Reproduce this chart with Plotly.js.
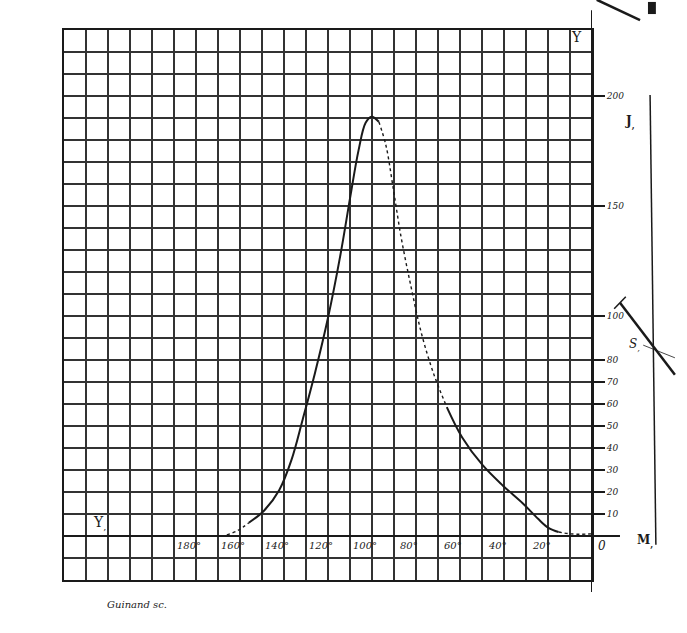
<!DOCTYPE html>
<html>
<head>
<meta charset="utf-8">
<script src="https://cdn.plot.ly/plotly-3.0.1.min.js"></script>
<style>html,body{margin:0;padding:0;background:#fff;}#chart{width:687px;height:633px;}</style>
</head>
<body>
<div id="chart"></div>
<script>
// ---- data ----
const leftDotX  = [166, 161, 156];
const leftDotY  = [0.5, 2.5, 6];
const riseX     = [156, 149.1, 142.2, 136.6, 131.5, 126, 120, 114.5, 109.8, 106.1, 102.9, 100.2, 96.9];
const riseY     = [6, 11.5, 20.8, 34.6, 53, 73.8, 99.2, 127, 154.6, 175.4, 187.8, 190.6, 188.3];
const fallDotX  = [96.9, 93.7, 90.5, 86.8, 82.2, 77.5, 72, 66];
const fallDotY  = [188.3, 177.7, 159, 136, 113, 92, 73.8, 58.6];
const fallX     = [66, 59, 49.8, 40.6, 31.4, 24.5, 19.8, 15.2];
const fallY     = [58.6, 44.8, 32.3, 23, 14.8, 7.8, 3.7, 1.8];
const tailDotX  = [15.2, 10, 5, 0];
const tailDotY  = [1.8, 1, 0.8, 1];

const xTickVals = [180, 160, 140, 120, 100, 80, 60, 40, 20];
const xTickText = ['180°', '160°', '140°', '120°', '100°', '80°', '60°', '40°', '20°'];
const yTickVals = [10, 20, 30, 40, 50, 60, 70, 80, 100, 150, 200];
const yTickText = ['10', '20', '30', '40', '50', '60', '70', '80', '100', '150', '200'];

const serif = 'DejaVu Serif, Liberation Serif, serif';
const ink = '#1a1a1a';

function seg(x, y, dash, w) {
  return {x: x, y: y, type: 'scatter', mode: 'lines',
          line: {color: ink, width: w, dash: dash, shape: 'spline', smoothing: 1},
          hoverinfo: 'skip', showlegend: false};
}
const traces = [
  seg(leftDotX, leftDotY, 'dot', 1.4),
  seg(riseX, riseY, 'solid', 2),
  seg(fallDotX, fallDotY, 'dot', 1.4),
  seg(fallX, fallY, 'solid', 2),
  seg(tailDotX, tailDotY, 'dot', 1.4),
  {x: [0], y: [0], yaxis: 'y2', type: 'scatter', mode: 'markers', marker: {opacity: 0}, hoverinfo: 'skip', showlegend: false}
];

const annotations = xTickVals.map((v, i) => ({
  x: v, y: 0, xref: 'x', yref: 'y', text: '<i>' + xTickText[i] + '</i>', showarrow: false,
  xanchor: 'center', yanchor: 'top', xshift: -7, yshift: -2,
  font: {family: serif, size: 10, color: ink}
}));
annotations.push(
  {x: 0, y: 0, xref: 'x', yref: 'y', text: '<i>0</i>', showarrow: false, xanchor: 'left', yanchor: 'top', xshift: 4, yshift: -1, font: {family: serif, size: 12, color: ink}},
  {x: 7, y: 227, xref: 'x', yref: 'y', text: 'Y', showarrow: false, xanchor: 'center', yanchor: 'middle', font: {family: serif, size: 14, color: ink}},
  {x: 224, y: 1, xref: 'x', yref: 'y', text: 'Y<sub>,</sub>', showarrow: false, xanchor: 'center', yanchor: 'bottom', font: {family: serif, size: 14, color: ink}},
  {x: 1.085, y: 0.851, xref: 'paper', yref: 'paper', text: '<b>J<sub>,</sub></b>', showarrow: false, font: {family: serif, size: 12, color: ink}},
  {x: 1.094, y: 0.427, xref: 'paper', yref: 'paper', text: '<i>S<sub>,</sub></i>', showarrow: false, font: {family: serif, size: 12, color: ink}},
  {x: 1.119, y: 0.052, xref: 'paper', yref: 'paper', text: '<b>M<sub>,</sub></b>', showarrow: false, font: {family: serif, size: 12, color: ink}},
  {x: 0.078, y: -0.058, xref: 'paper', yref: 'paper', text: '<i>Guinand sc.</i>', showarrow: false, xanchor: 'left', font: {family: serif, size: 10, color: ink}}
);

const shapes = [
  {type: 'line', xref: 'x', yref: 'paper', x0: 0, x1: 0, y0: -0.022, y1: 1.036, line: {color: ink, width: 2}},
  {type: 'line', xref: 'paper', yref: 'y', x0: 0, x1: 1.053, y0: 0, y1: 0, line: {color: ink, width: 2}},
  {type: 'line', xref: 'paper', yref: 'paper', x0: 1.110, y0: 0.882, x1: 1.121, y1: 0.064, line: {color: ink, width: 1.5}},
  {type: 'line', xref: 'paper', yref: 'paper', x0: 1.053, y0: 0.504, x1: 1.157, y1: 0.373, line: {color: ink, width: 2.5}},
  {type: 'line', xref: 'paper', yref: 'paper', x0: 1.042, y0: 0.493, x1: 1.064, y1: 0.515, line: {color: ink, width: 1.5}},
  {type: 'line', xref: 'paper', yref: 'paper', x0: 1.097, y0: 0.427, x1: 1.157, y1: 0.404, line: {color: ink, width: 0.8}},
  {type: 'line', xref: 'paper', yref: 'paper', x0: 1.009, y0: 1.055, x1: 1.091, y1: 1.018, line: {color: ink, width: 2.5}},
  {type: 'rect', xref: 'paper', yref: 'paper', x0: 1.106, y0: 1.029, x1: 1.121, y1: 1.051, fillcolor: ink, line: {width: 0}}
];

const layout = {
  width: 687, height: 633,
  margin: {l: 64, r: 95, t: 30, b: 53},
  paper_bgcolor: '#fff', plot_bgcolor: '#fff',
  showlegend: false,
  xaxis: {range: [240, 0], dtick: 10, tick0: 0, showgrid: true, gridcolor: '#333', gridwidth: 1.5,
          zeroline: false, showticklabels: false, ticks: '', showline: true, linecolor: ink, linewidth: 2, mirror: true, fixedrange: true},
  yaxis: {range: [-20, 230], dtick: 10, tick0: 0, showgrid: true, gridcolor: '#333', gridwidth: 1.5,
          zeroline: false, showticklabels: false, ticks: '', showline: true, linecolor: ink, linewidth: 2, mirror: true, fixedrange: true},
  yaxis2: {range: [-20, 230], overlaying: 'y', side: 'right', anchor: 'x', showgrid: false, zeroline: false,
           tickmode: 'array', tickvals: yTickVals, ticktext: yTickText, ticks: 'outside', ticklen: 12, tickwidth: 1.2, tickcolor: ink,
           tickfont: {family: serif, size: 9, color: ink, style: 'italic'}, showline: false, fixedrange: true},
  annotations: annotations,
  shapes: shapes
};

Plotly.newPlot('chart', traces, layout, {staticPlot: true});
</script>
</body>
</html>
